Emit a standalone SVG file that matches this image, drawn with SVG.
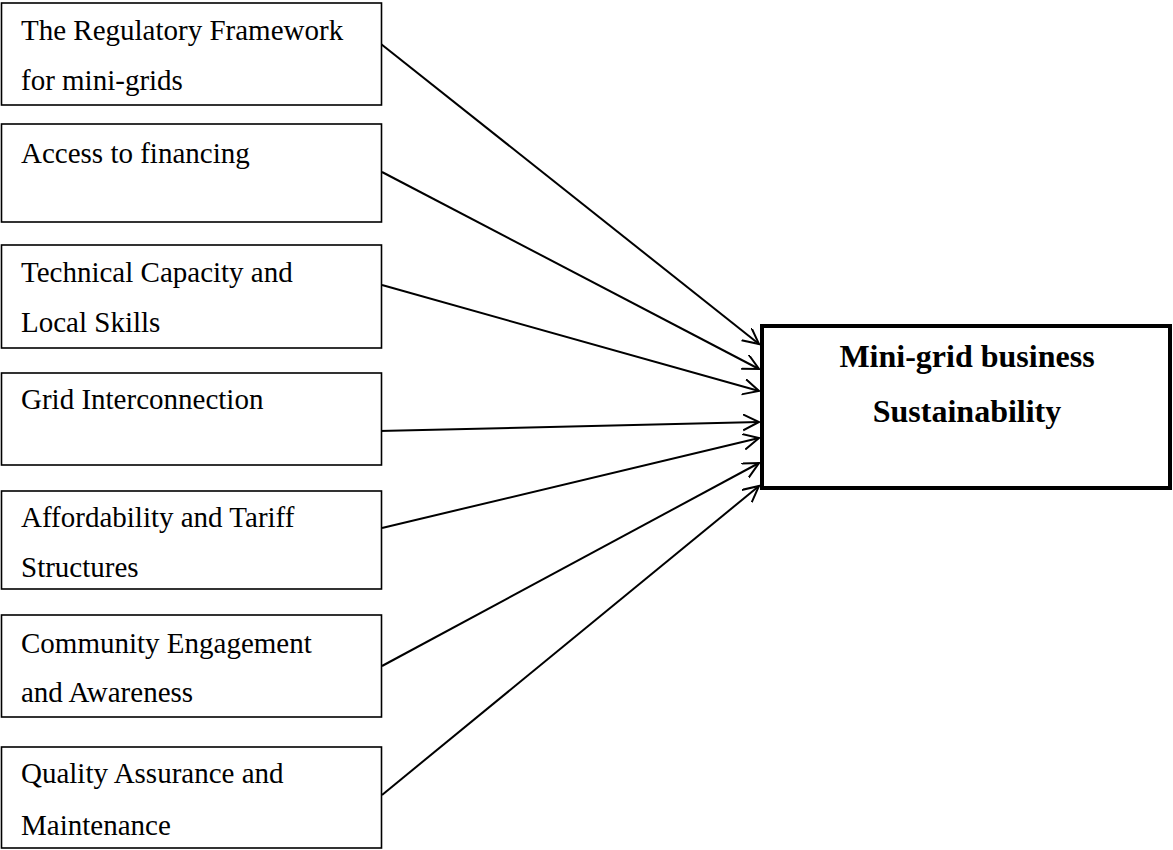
<svg xmlns="http://www.w3.org/2000/svg" width="1173" height="850" viewBox="0 0 1173 850">
  <style>
    .box { fill: #ffffff; stroke: #000000; stroke-width: 1.6; }
    .main { fill: #ffffff; stroke: #000000; stroke-width: 4; }
    .lbl { font-family: "Liberation Serif", "Times New Roman", serif; font-size: 29px; fill: #000000; }
    .bold { font-family: "Liberation Serif", "Times New Roman", serif; font-size: 32px; font-weight: bold; fill: #000000; text-anchor: middle; }
    .conn { stroke: #000000; stroke-width: 2; fill: none; marker-end: url(#arrow); }
  </style>
  <defs>
    <marker id="arrow" markerUnits="userSpaceOnUse" markerWidth="20" markerHeight="20" refX="16" refY="8" orient="auto">
      <path d="M0,0 L16,8 L0,16" fill="none" stroke="#000000" stroke-width="2"/>
    </marker>
  </defs>

  <rect width="1173" height="850" fill="#ffffff"/>

  <g id="connectors">
    <line class="conn" x1="381" y1="44" x2="759" y2="344"/>
    <line class="conn" x1="382" y1="172" x2="759" y2="369"/>
    <line class="conn" x1="382" y1="285" x2="759" y2="391"/>
    <line class="conn" x1="379" y1="431" x2="759" y2="422"/>
    <line class="conn" x1="382" y1="528" x2="759" y2="438"/>
    <line class="conn" x1="382" y1="666" x2="759" y2="463"/>
    <line class="conn" x1="382" y1="795" x2="759" y2="486"/>
  </g>

  <g id="regulatory-framework">
    <rect class="box" x="1.5" y="3" width="380" height="102"/>
    <text class="lbl" x="21" y="40">The Regulatory Framework</text>
    <text class="lbl" x="21" y="90">for mini-grids</text>
  </g>

  <g id="access-to-financing">
    <rect class="box" x="1.5" y="124" width="380" height="98"/>
    <text class="lbl" x="21" y="163">Access to financing</text>
  </g>

  <g id="technical-capacity">
    <rect class="box" x="1.5" y="245" width="380" height="103"/>
    <text class="lbl" x="21" y="282">Technical Capacity and</text>
    <text class="lbl" x="21" y="332">Local Skills</text>
  </g>

  <g id="grid-interconnection">
    <rect class="box" x="1.5" y="373" width="380" height="92"/>
    <text class="lbl" x="21" y="409">Grid Interconnection</text>
  </g>

  <g id="affordability-tariffs">
    <rect class="box" x="1.5" y="491" width="380" height="98"/>
    <text class="lbl" x="21" y="527">Affordability and Tariff</text>
    <text class="lbl" x="21" y="577">Structures</text>
  </g>

  <g id="community-engagement">
    <rect class="box" x="1.5" y="615" width="380" height="102"/>
    <text class="lbl" x="21" y="653">Community Engagement</text>
    <text class="lbl" x="21" y="702">and Awareness</text>
  </g>

  <g id="quality-assurance">
    <rect class="box" x="1.5" y="747" width="380" height="101"/>
    <text class="lbl" x="21" y="783">Quality Assurance and</text>
    <text class="lbl" x="21" y="835">Maintenance</text>
  </g>

  <g id="business-sustainability">
    <rect class="main" x="762" y="326" width="408" height="162"/>
    <text class="bold" x="967" y="367">Mini-grid business</text>
    <text class="bold" x="967" y="422">Sustainability</text>
  </g>
</svg>
